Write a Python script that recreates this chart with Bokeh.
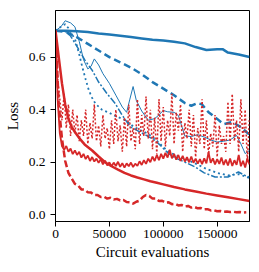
from bokeh.plotting import figure
from bokeh.models import FixedTicker, Range1d, NumeralTickFormatter
from bokeh.embed import file_html
from bokeh.resources import INLINE

# ---- data ----
x_ticks = [0, 50000, 100000, 150000]
y_ticks = [0.0, 0.2, 0.4, 0.6]

b_solid_x = [0, 10000, 20000, 30000, 40000, 50000, 60000, 70000, 80000, 90000, 100000,
             110000, 120000, 130000, 140000, 150000, 155000, 160000, 170000, 180000]
b_solid_y = [0.700, 0.700, 0.698, 0.695, 0.690, 0.686, 0.681, 0.676, 0.671, 0.666, 0.663,
             0.658, 0.652, 0.638, 0.627, 0.630, 0.630, 0.617, 0.610, 0.600]

b_dash_x = [0, 10000, 20000, 30000, 40000, 50000, 60000, 70000, 80000, 90000, 100000,
            110000, 120000, 126000, 132000, 136000, 142000, 150000, 156000, 164000, 172000, 180000]
b_dash_y = [0.700, 0.695, 0.675, 0.650, 0.625, 0.600, 0.580, 0.560, 0.535, 0.505, 0.480,
            0.455, 0.425, 0.415, 0.425, 0.420, 0.390, 0.365, 0.345, 0.353, 0.334, 0.305]

b_thin_x = [0, 5000, 9000, 14000, 18000, 22000, 26000, 30000, 33000, 36000, 40000, 44000,
            50000, 56000, 62000, 66000, 69000, 72000, 75000, 80000, 86000, 92000, 96000,
            100000, 104000, 110000, 114000, 120000, 126000, 132000, 138000, 144000, 150000,
            156000, 162000, 168000, 172000, 176000, 180000]
b_thin_y = [0.700, 0.715, 0.738, 0.730, 0.715, 0.660, 0.590, 0.555, 0.565, 0.593, 0.570, 0.537,
            0.500, 0.455, 0.410, 0.390, 0.440, 0.488, 0.435, 0.395, 0.360, 0.366, 0.380,
            0.397, 0.392, 0.390, 0.378, 0.300, 0.298, 0.305, 0.296, 0.285, 0.277,
            0.280, 0.285, 0.302, 0.270, 0.233, 0.245]

b_dot_x = [0, 4000, 9000, 13000, 18500, 22000, 25000, 28000, 31000, 34000, 37000, 43000,
           49000, 56000, 65000, 72500, 80000, 86000, 92000, 100000, 105000, 110000, 116000,
           122000, 130000, 140000, 150000, 160000, 170000, 180000]
b_dot_y = [0.700, 0.712, 0.725, 0.705, 0.663, 0.610, 0.560, 0.515, 0.473, 0.445, 0.423, 0.400,
           0.390, 0.375, 0.360, 0.335, 0.320, 0.308, 0.290, 0.258, 0.240, 0.230, 0.218,
           0.210, 0.195, 0.175, 0.160, 0.150, 0.155, 0.140]

b_dashdot_x = [0, 8000, 14000, 20000, 27000, 34000, 40000, 48000, 55500, 61700, 69400, 74000,
               83000, 92600, 105000, 112000, 120400, 129600, 138000, 148000, 160000, 169700,
               176000, 180000]
b_dashdot_y = [0.700, 0.700, 0.680, 0.640, 0.590, 0.550, 0.505, 0.460, 0.423, 0.380, 0.335, 0.325,
               0.305, 0.283, 0.233, 0.215, 0.200, 0.182, 0.160, 0.144, 0.144, 0.163,
               0.150, 0.144]

r_dot_x = list(range(0, 180001, 2000))
r_dot_y = [0.70, 0.52, 0.44, 0.36, 0.46, 0.33, 0.42, 0.30, 0.40, 0.31,
           0.38, 0.28, 0.36, 0.30, 0.40, 0.27, 0.35, 0.29, 0.42, 0.28,
           0.34, 0.26, 0.38, 0.29, 0.33, 0.25, 0.36, 0.27, 0.40, 0.28,
           0.34, 0.24, 0.37, 0.26, 0.42, 0.28, 0.33, 0.25, 0.44, 0.27,
           0.38, 0.30, 0.45, 0.29, 0.40, 0.25, 0.37, 0.23, 0.44, 0.28,
           0.41, 0.26, 0.36, 0.30, 0.46, 0.27, 0.39, 0.32, 0.42, 0.24,
           0.35, 0.29, 0.40, 0.26, 0.38, 0.22, 0.33, 0.27, 0.44, 0.25,
           0.36, 0.23, 0.31, 0.26, 0.38, 0.22, 0.34, 0.27, 0.30, 0.24,
           0.43, 0.27, 0.46, 0.28, 0.36, 0.24, 0.44, 0.27, 0.40, 0.20,
           0.37]

r_mid_x = list(range(0, 180001, 2000))
r_mid_y = [0.700, 0.440, 0.310, 0.262, 0.248, 0.262, 0.240, 0.252, 0.231, 0.245,
           0.228, 0.240, 0.218, 0.232, 0.212, 0.226, 0.205, 0.220, 0.203, 0.214,
           0.198, 0.212, 0.192, 0.206, 0.188, 0.200, 0.184, 0.199, 0.186, 0.202,
           0.183, 0.197, 0.180, 0.196, 0.185, 0.199, 0.182, 0.195, 0.186, 0.204,
           0.190, 0.208, 0.194, 0.214, 0.200, 0.222, 0.205, 0.228, 0.208, 0.232,
           0.214, 0.236, 0.218, 0.248, 0.215, 0.232, 0.210, 0.228, 0.205, 0.225,
           0.203, 0.220, 0.200, 0.222, 0.198, 0.214, 0.195, 0.212, 0.193, 0.215,
           0.196, 0.238, 0.198, 0.215, 0.192, 0.212, 0.194, 0.218, 0.190, 0.210,
           0.188, 0.214, 0.186, 0.208, 0.190, 0.228, 0.185, 0.206, 0.180, 0.215,
           0.192]

r_thick_x = [0, 3000, 6000, 9000, 12000, 15000, 18000, 22000, 27000, 34000, 40000, 46000,
             52000, 58000, 64000, 70000, 76000, 82000, 88000, 94000, 100000, 110000, 120000,
             130000, 140000, 150000, 160000, 170000, 180000]
r_thick_y = [0.700, 0.600, 0.500, 0.420, 0.365, 0.335, 0.315, 0.292, 0.268, 0.245, 0.222, 0.200,
             0.185, 0.172, 0.160, 0.150, 0.142, 0.135, 0.128, 0.122, 0.116, 0.106, 0.097,
             0.089, 0.081, 0.074, 0.067, 0.060, 0.053]

r_dash_x = list(range(0, 177001, 3000))
r_dash_y = [0.700, 0.420, 0.290, 0.205, 0.160, 0.138, 0.118, 0.112, 0.097, 0.096,
            0.086, 0.085, 0.076, 0.076, 0.068, 0.069, 0.062, 0.065, 0.059, 0.061,
            0.055, 0.057, 0.049, 0.048, 0.043, 0.050, 0.054, 0.068, 0.076, 0.072,
            0.062, 0.062, 0.053, 0.054, 0.047, 0.048, 0.041, 0.042, 0.036, 0.038,
            0.032, 0.034, 0.028, 0.030, 0.025, 0.026, 0.021, 0.022, 0.017, 0.018,
            0.014, 0.015, 0.012, 0.013, 0.011, 0.012, 0.010, 0.011, 0.009, 0.010]

BLUE = "#1f77b4"
RED = "#d62728"
FONT = "Liberation Serif"

p = figure(width=255, height=270, output_backend="svg", toolbar_location=None,
           x_range=Range1d(0, 180000), y_range=Range1d(-0.025, 0.777),
           min_border_left=55, min_border_right=6, min_border_top=10, min_border_bottom=49)

p.line(b_solid_x, b_solid_y, color=BLUE, line_width=2.5)
p.line(b_dash_x, b_dash_y, color=BLUE, line_width=2.5, line_dash="7 4")
p.line(b_thin_x, b_thin_y, color=BLUE, line_width=1)
p.line(b_dot_x, b_dot_y, color=BLUE, line_width=1.8, line_dash="2 3")
p.line(b_dashdot_x, b_dashdot_y, color=BLUE, line_width=1.5, line_dash="7 2 2 2")

p.line(r_dot_x, r_dot_y, color=RED, line_width=1.5, line_dash="2 2")
p.line(r_mid_x, r_mid_y, color=RED, line_width=1.8)
p.line(r_thick_x, r_thick_y, color=RED, line_width=2.5)
p.line(r_dash_x, r_dash_y, color=RED, line_width=2.5, line_dash="7 3")

p.xgrid.visible = False
p.ygrid.visible = False
p.outline_line_color = "black"
p.outline_line_width = 1
p.outline_line_alpha = 1
p.background_fill_color = "white"
p.border_fill_color = "white"

p.xaxis.ticker = FixedTicker(ticks=x_ticks)
p.yaxis.ticker = FixedTicker(ticks=y_ticks)
p.xaxis.formatter = NumeralTickFormatter(format="0")
p.yaxis.formatter = NumeralTickFormatter(format="0.0")
p.xaxis.axis_label = "Circuit evaluations"
p.yaxis.axis_label = "Loss"

for ax in (p.xaxis, p.yaxis):
    ax.axis_line_color = "black"
    ax.axis_line_width = 1
    ax.major_tick_line_color = "black"
    ax.major_tick_in = 0
    ax.major_tick_out = 5
    ax.minor_tick_line_color = None
    ax.major_label_text_font = FONT
    ax.major_label_text_font_size = "13.5px"
    ax.major_label_text_color = "black"
    ax.axis_label_text_font = FONT
    ax.axis_label_text_font_size = "15px"
    ax.axis_label_text_font_style = "normal"
    ax.axis_label_text_color = "black"
    ax.major_label_standoff = 5
    ax.axis_label_standoff = 5

p.xaxis.major_label_standoff = 3
p.xaxis.axis_label_standoff = 3

open("out.html", "w").write(file_html(p, INLINE))
